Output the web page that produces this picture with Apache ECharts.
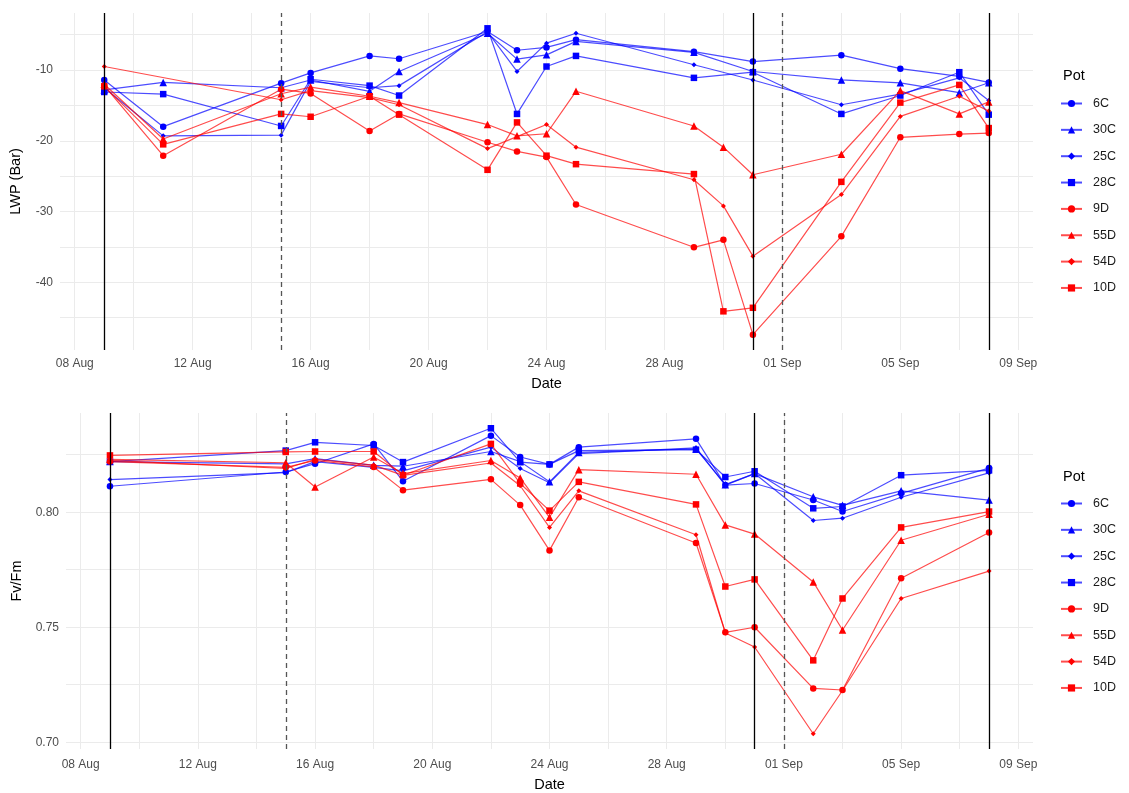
<!DOCTYPE html>
<html>
<head>
<meta charset="utf-8">
<script src="https://cdn.jsdelivr.net/npm/echarts@6/dist/echarts.min.js"></script>
<style>
  html, body { margin: 0; padding: 0; background: #fff; }
  #chart { width: 1129px; height: 793px; }
</style>
</head>
<body>
<div id="chart"></div>
<script>
// Measurement dates for each panel
const lwpDates = ['2023-08-09','2023-08-11','2023-08-15','2023-08-16','2023-08-18','2023-08-19','2023-08-22','2023-08-23','2023-08-24','2023-08-25','2023-08-29','2023-08-30','2023-08-31','2023-09-03','2023-09-05','2023-09-07','2023-09-08'];
const fvDates  = ['2023-08-09','2023-08-15','2023-08-16','2023-08-18','2023-08-19','2023-08-22','2023-08-23','2023-08-24','2023-08-25','2023-08-29','2023-08-30','2023-08-31','2023-09-02','2023-09-03','2023-09-05','2023-09-08'];

// Pots (control = C, drought = D)
const pots = ['6C','30C','25C','28C','9D','55D','54D','10D'];

// Leaf water potential (Bar), one value per lwpDates entry
const lwp6C  = [-11.4, -18.0, -11.85, -10.4, -8.0, -8.4, -4.55, -7.2, -6.8, -5.7, -7.4, null, -8.8, -7.9, -9.8, -10.9, -11.75];
const lwp30C = [-12.8, -11.75, -12.5, -11.4, -13.0, -10.2, -4.8, -8.45, -7.85, -5.95, -7.5, null, -10.2, -11.4, -11.8, -13.2, -11.8];
const lwp25C = [-12.5, -19.3, -19.2, -11.6, -12.5, -12.2, -4.6, -10.2, -6.2, -4.8, -9.25, null, -11.4, -14.9, -13.4, -11.1, -14.3];
const lwp28C = [-13.1, -13.4, -17.9, -11.3, -12.2, -13.6, -4.1, -16.2, -9.5, -8.0, -11.1, null, -10.3, -16.2, -13.6, -10.3, -16.3];
const lwp9D  = [-12.2, -22.1, -12.7, -13.3, -18.6, -16.2, -20.2, -21.5, -22.3, -29.0, -35.05, -34.0, -47.4, -33.5, -19.5, -19.05, -18.9];
const lwp55D = [-12.0, -19.75, -13.35, -12.4, -13.7, -14.6, -17.7, -19.3, -19.0, -13.0, -17.9, -20.9, -24.8, -21.9, -12.9, -16.2, -14.5];
const lwp54D = [-9.5, null, -14.2, -12.9, -13.9, -14.9, -21.1, -19.4, -17.7, -20.9, -25.5, -29.2, -36.3, -27.6, -16.55, -13.7, -15.8];
const lwp10D = [-12.3, -20.5, -16.2, -16.6, -13.7, -16.3, -24.1, -17.4, -22.1, -23.3, -24.7, -44.1, -43.6, -25.8, -14.6, -12.1, -18.2];

// Maximum quantum yield of PSII (Fv/Fm), one value per fvDates entry
const fv6C  = [0.8113, 0.8175, 0.8211, 0.8297, 0.8135, 0.8333, 0.8240, 0.8208, 0.8283, 0.8319, 0.8118, 0.8125, 0.8053, 0.8003, 0.8082, 0.8192];
const fv30C = [0.8220, 0.8210, 0.8233, 0.8204, 0.8200, 0.8264, 0.8220, 0.8132, 0.8260, 0.8275, 0.8120, 0.8168, 0.8067, 0.8030, 0.8093, 0.8053];
const fv25C = [0.8142, 0.8172, 0.8220, 0.8195, 0.8180, 0.8283, 0.8190, 0.8128, 0.8255, 0.8280, 0.8118, 0.8168, 0.7964, 0.7974, 0.8065, 0.8171];
const fv28C = [0.8220, 0.8268, 0.8304, 0.8290, 0.8218, 0.8365, 0.8218, 0.8208, 0.8268, 0.8272, 0.8153, 0.8178, 0.8017, 0.8025, 0.8161, 0.8182];
const fv9D  = [0.8220, 0.8195, 0.8225, 0.8197, 0.8096, 0.8143, 0.8031, 0.7834, 0.8065, 0.7866, 0.7478, 0.7500, 0.7234, 0.7227, 0.7713, 0.7912];
const fv55D = [0.8230, 0.8215, 0.8110, 0.8240, 0.8168, 0.8225, 0.8149, 0.7978, 0.8185, 0.8165, 0.7945, 0.7905, 0.7697, 0.7488, 0.7878, 0.7991];
const fv54D = [0.8225, 0.8190, 0.8230, 0.8205, 0.8160, 0.8214, 0.8115, 0.7934, 0.8093, 0.7902, 0.7475, 0.7414, 0.7037, 0.7225, 0.7625, 0.7744];
const fv10D = [0.8247, 0.8262, 0.8264, 0.8264, 0.8161, 0.8297, 0.8125, 0.8007, 0.8132, 0.8034, 0.7677, 0.7708, 0.7356, 0.7625, 0.7934, 0.8003];

// Reference dates drawn as vertical lines
const solidLineDates  = ['2023-08-09','2023-08-31','2023-09-08'];
const dashedLineDates = ['2023-08-15','2023-09-01'];

// Axis break values
const xLabelDates = ['2023-08-08','2023-08-12','2023-08-16','2023-08-20','2023-08-24','2023-08-28','2023-09-01','2023-09-05','2023-09-09'];
const lwpLabels = [-40, -30, -20, -10];
const lwpGrid   = [-45, -40, -35, -30, -25, -20, -15, -10, -5];
const fvLabels  = [0.70, 0.75, 0.80];
const fvGrid    = [0.700, 0.725, 0.750, 0.775, 0.800, 0.825];

const lwpSeries = [lwp6C, lwp30C, lwp25C, lwp28C, lwp9D, lwp55D, lwp54D, lwp10D];
const fvSeries  = [fv6C, fv30C, fv25C, fv28C, fv9D, fv55D, fv54D, fv10D];

const potColor  = p => p.endsWith('C') ? '#0000ff' : '#ff0000';
const potSymbol = ['circle', 'triangle', 'diamond', 'rect', 'circle', 'triangle', 'diamond', 'rect'];
const potSize   = [6.5, 7.5, 5, 6.5, 6.5, 7.5, 5, 6.5];

// Dates are placed on a numeric day axis (days since 8 Aug)
const BASE = Date.UTC(2023, 7, 8);
const MONTHS = ['Jan','Feb','Mar','Apr','May','Jun','Jul','Aug','Sep','Oct','Nov','Dec'];
function dayNum(s) {
  const [y, m, d] = s.split('-').map(Number);
  return (Date.UTC(y, m - 1, d) - BASE) / 864e5;
}
function dayLabel(v) {
  const dt = new Date(BASE + Math.round(v) * 864e5);
  return String(dt.getUTCDate()).padStart(2, '0') + ' ' + MONTHS[dt.getUTCMonth()];
}
function expand(vals) {
  const f = vals.filter(v => v != null);
  const lo = Math.min(...f), hi = Math.max(...f), pad = (hi - lo) * 0.05;
  return [lo - pad, hi + pad];
}

const allDays = lwpDates.concat(fvDates).map(dayNum);
const xExt = expand(allDays);
const xGrid = [];
for (let d = 0; d <= 32; d += 2) xGrid.push(d);
const xLabels = xLabelDates.map(dayNum);
const lwpExt = expand([].concat(...lwpSeries));
const fvExt  = expand([].concat(...fvSeries));

const FONT = '"Liberation Sans", Arial, sans-serif';
const gridLine = { show: true, lineStyle: { color: '#ebebeb', width: 1 } };

function xAxis(idx, labelMargin, nameGap) {
  return {
    type: 'value', gridIndex: idx, min: xExt[0], max: xExt[1],
    axisLine: { show: false },
    axisTick: { show: false, customValues: xGrid },
    axisLabel: { customValues: xLabels, formatter: dayLabel, color: '#4d4d4d', fontSize: 12, fontFamily: FONT, margin: labelMargin },
    splitLine: gridLine,
    name: 'Date', nameLocation: 'middle', nameGap: nameGap,
    nameTextStyle: { color: '#000', fontSize: 14.5, fontFamily: FONT }
  };
}
function yAxis(idx, ext, grid, labels, fmt, name, nameGap) {
  return {
    type: 'value', gridIndex: idx, min: ext[0], max: ext[1],
    axisLine: { show: false },
    axisTick: { show: false, customValues: grid },
    axisLabel: { customValues: labels, formatter: fmt, color: '#4d4d4d', fontSize: 12, fontFamily: FONT, margin: 7 },
    splitLine: gridLine,
    name: name, nameLocation: 'middle', nameRotate: 90, nameGap: nameGap,
    nameTextStyle: { color: '#000', fontSize: 14.5, fontFamily: FONT }
  };
}

function potSeries(idx, dates, values) {
  return pots.map((p, i) => ({
    name: p, type: 'line', xAxisIndex: idx, yAxisIndex: idx,
    data: dates.map((d, k) => [dayNum(d), values[i][k]]).filter(pt => pt[1] != null),
    symbol: potSymbol[i], symbolSize: potSize[i], showSymbol: true,
    itemStyle: { color: potColor(p) },
    lineStyle: { color: potColor(p), width: 1.2, opacity: 0.7 },
    emphasis: { disabled: true }, animation: false, z: 3
  }));
}
function refLines(idx) {
  const mk = (dates, type, color) => dates.map(d => ({ xAxis: dayNum(d), lineStyle: { type: type, color: color, width: 1.3 } }));
  return {
    name: 'ref', type: 'line', xAxisIndex: idx, yAxisIndex: idx, data: [], z: 1, animation: false,
    markLine: {
      silent: true, symbol: 'none', label: { show: false }, animation: false,
      data: mk(solidLineDates, 'solid', '#000000').concat(mk(dashedLineDates, [5, 4], '#555555'))
    }
  };
}
function legend(top) {
  return {
    orient: 'vertical', left: 1060, top: top, data: pots, padding: 0,
    itemWidth: 21, itemHeight: 9, itemGap: 13.35,
    textStyle: { color: '#1a1a1a', fontSize: 12.5, lineHeight: 12, fontFamily: FONT, padding: [0, 0, 0, 6] },
    selectedMode: false
  };
}

const chart = echarts.init(document.getElementById('chart'), null, { renderer: 'canvas' });
chart.setOption({
  backgroundColor: '#ffffff',
  animation: false,
  textStyle: { fontFamily: FONT },
  title: [
    { text: 'Pot', left: 1058, top: 63, textStyle: { fontSize: 14.5, fontWeight: 'normal', color: '#000', fontFamily: FONT } },
    { text: 'Pot', left: 1058, top: 464, textStyle: { fontSize: 14.5, fontWeight: 'normal', color: '#000', fontFamily: FONT } }
  ],
  legend: [legend(97), legend(497)],
  grid: [
    { left: 58, right: 96, top: 13, height: 337 },
    { left: 66, right: 96, top: 413, height: 337 }
  ],
  xAxis: [xAxis(0, 8, 26), xAxis(1, 10, 28)],
  yAxis: [
    yAxis(0, lwpExt, lwpGrid, lwpLabels, v => String(v), 'LWP (Bar)', 37),
    yAxis(1, fvExt, fvGrid, fvLabels, v => v.toFixed(2), 'Fv/Fm', 42)
  ],
  series: [refLines(0), refLines(1)]
    .concat(potSeries(0, lwpDates, lwpSeries))
    .concat(potSeries(1, fvDates, fvSeries))
});
</script>
</body>
</html>
